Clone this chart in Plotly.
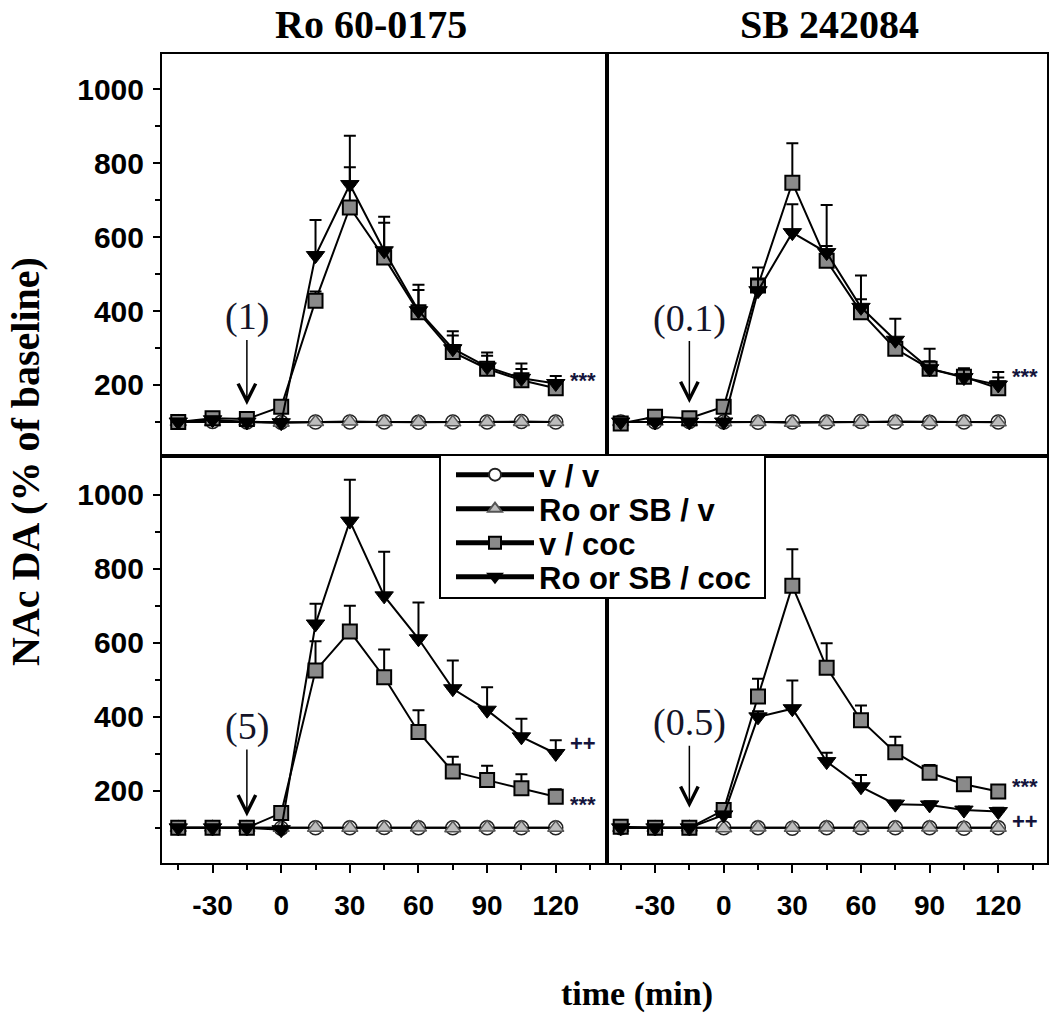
import plotly.graph_objects as go

# ---------------- data ----------------
time_min = [-45, -30, -15, 0, 15, 30, 45, 60, 75, 90, 105, 120]
group_names = ["v / v", "Ro or SB / v", "v / coc", "Ro or SB / coc"]
panel_titles = ["Ro 60-0175", "SB 242084"]
dose_labels = ["(1)", "(0.1)", "(5)", "(0.5)"]
x_tick_vals = [-30, 0, 30, 60, 90, 120]
x_tick_text = ["-30", "0", "30", "60", "90", "120"]
x_minor_vals = [-45, -15, 15, 45, 75, 105, 135]
y_tick_vals = [200, 400, 600, 800, 1000]
y_minor_vals = [100, 300, 500, 700, 900]

# top-left: Ro 60-0175 (1)
vv_tl = [100, 101, 100, 99, 100, 100, 100, 99, 100, 100, 101, 100]
rov_tl = [100, 100, 101, 98, 100, 101, 100, 100, 99, 100, 100, 100]
vcoc_tl = [100, 110, 108, 141, 428, 680, 545, 397, 289, 244, 213, 191]
vcoc_tl_err = [5, 8, 6, 15, 25, 109, 94, 60, 45, 35, 30, 20]
rococ_tl = [100, 106, 100, 98, 550, 742, 563, 401, 298, 249, 218, 204]
rococ_tl_err = [5, 6, 5, 10, 96, 132, 92, 70, 47, 39, 40, 20]

# top-right: SB 242084 (0.1)
vv_tr = [100, 100, 101, 100, 99, 100, 100, 101, 100, 99, 100, 100]
rov_tr = [100, 101, 100, 99, 100, 98, 100, 100, 101, 100, 100, 99]
vcoc_tr = [96, 114, 110, 141, 469, 747, 536, 397, 298, 244, 222, 191]
vcoc_tr_err = [5, 8, 6, 15, 49, 107, 40, 35, 25, 20, 20, 44]
rococ_tr = [100, 100, 100, 100, 455, 612, 558, 410, 321, 244, 220, 200]
rococ_tr_err = [5, 5, 5, 8, 30, 77, 129, 86, 58, 54, 25, 20]

# bottom-left: Ro 60-0175 (5)
vv_bl = [100, 100, 100, 99, 100, 100, 101, 100, 100, 100, 100, 100]
rov_bl = [100, 101, 100, 100, 100, 100, 100, 101, 99, 101, 100, 100]
vcoc_bl = [100, 100, 100, 140, 525, 631, 507, 359, 252, 229, 207, 184]
vcoc_bl_err = [5, 5, 5, 15, 79, 69, 75, 59, 40, 39, 38, 20]
rococ_bl = [100, 100, 100, 95, 651, 929, 727, 611, 476, 418, 346, 301]
rococ_bl_err = [5, 5, 5, 8, 55, 112, 119, 98, 76, 62, 49, 36]

# bottom-right: SB 242084 (0.5)
vv_br = [100, 100, 100, 100, 100, 99, 100, 100, 100, 100, 99, 100]
rov_br = [100, 100, 101, 99, 101, 100, 101, 100, 100, 101, 100, 100]
vcoc_br = [103, 100, 100, 148, 455, 754, 533, 391, 304, 249, 218, 198]
vcoc_br_err = [5, 5, 5, 10, 48, 99, 66, 40, 42, 21, 15, 15]
rococ_br = [100, 100, 100, 135, 400, 422, 279, 211, 164, 162, 148, 144]
rococ_br_err = [5, 5, 5, 8, 15, 76, 24, 32, 10, 10, 10, 10]

# significance marks: (panel, series, text, yshift)
sig_marks = [
    (0, "vcoc", "***", 8),
    (1, "vcoc", "***", 12),
    (2, "rococ", "++", 10),
    (2, "vcoc", "***", -8),
    (3, "vcoc", "***", 5),
    (3, "rococ", "++", -10),
]

panels = [
    dict(vv=vv_tl, rov=rov_tl, vcoc=vcoc_tl, vcoc_err=vcoc_tl_err, rococ=rococ_tl, rococ_err=rococ_tl_err),
    dict(vv=vv_tr, rov=rov_tr, vcoc=vcoc_tr, vcoc_err=vcoc_tr_err, rococ=rococ_tr, rococ_err=rococ_tr_err),
    dict(vv=vv_bl, rov=rov_bl, vcoc=vcoc_bl, vcoc_err=vcoc_bl_err, rococ=rococ_bl, rococ_err=rococ_bl_err),
    dict(vv=vv_br, rov=rov_br, vcoc=vcoc_br, vcoc_err=vcoc_br_err, rococ=rococ_br, rococ_err=rococ_br_err),
]

# ---------------- layout helpers ----------------
W, H = 1050, 1015


def px(x):
    return x / W


def py(y):
    return 1 - y / H


SANS = "Liberation Sans, Arial, sans-serif"
SERIF = "Liberation Serif, Times New Roman, serif"

x_dom = [[px(162), px(607)], [px(607), px(1047)]]
y_dom = [[py(456), py(54)], [py(863), py(456)]]
x_rng = [[-52.1, 142.4], [-51.0, 141.3]]
y_rng = [[8, 1095], [5, 1105]]

styles = {
    "vv": dict(symbol="circle", size=14, color="white", line=dict(color="#222", width=1.5)),
    "rov": dict(symbol="triangle-up", size=14, color="#bdbdbd", line=dict(color="#555", width=1.5)),
    "vcoc": dict(symbol="square", size=14, color="#8a8a8a", line=dict(color="black", width=2)),
    "rococ": dict(symbol="triangle-down", size=16, color="black", line=dict(color="black", width=1)),
}
keys = ["vv", "rov", "vcoc", "rococ"]
legend_ids = ["legend", "legend2", "legend3", "legend4"]
legend_rows = [475, 509, 543, 577]

fig = go.Figure()

for p, pdata in enumerate(panels):
    ax_id = "" if p == 0 else str(p + 1)
    for i, (k, name) in enumerate(zip(keys, group_names)):
        err = pdata.get(k + "_err")
        tr = go.Scatter(
            x=time_min, y=pdata[k], mode="lines+markers", name=name,
            line=dict(color="black", width=2), marker=styles[k],
            showlegend=(p == 0), legend=legend_ids[i],
            xaxis="x" + ax_id, yaxis="y" + ax_id, hoverinfo="skip",
        )
        if err is not None:
            tr.error_y = dict(type="data", array=err, arrayminus=[0] * len(err), symmetric=False,
                              color="black", thickness=2, width=6)
        fig.add_trace(tr)

for p in range(4):
    row, col = divmod(p, 2)
    suffix = "" if p == 0 else str(p + 1)
    xa = dict(domain=x_dom[col], range=x_rng[col], anchor="y" + suffix,
              showline=True, mirror=True, linecolor="black", linewidth=2,
              showgrid=False, zeroline=False, fixedrange=True)
    ya = dict(domain=y_dom[row], range=y_rng[row], anchor="x" + suffix,
              showline=True, mirror=True, linecolor="black", linewidth=2,
              showgrid=False, zeroline=False, fixedrange=True)
    if row == 1:
        xa.update(tickmode="array", tickvals=x_tick_vals, ticktext=x_tick_text,
                  ticks="outside", ticklen=8, tickwidth=2,
                  tickcolor="black", ticklabelstandoff=8,
                  tickfont=dict(family=SANS, size=28, color="black", weight="bold"),
                  minor=dict(tickmode="array", tickvals=x_minor_vals, ticks="outside", ticklen=5,
                             tickwidth=2, tickcolor="black"))
    else:
        xa.update(showticklabels=False, ticks="")
    if col == 0:
        ya.update(tickmode="array", tickvals=y_tick_vals, ticks="outside", ticklen=7, tickwidth=2,
                  tickcolor="black", ticklabelstandoff=3,
                  tickfont=dict(family=SANS, size=30, color="black", weight="bold"),
                  minor=dict(tickmode="array", tickvals=y_minor_vals, ticks="outside", ticklen=5,
                             tickwidth=2, tickcolor="black"))
    else:
        ya.update(showticklabels=False, ticks="")
    fig.layout["xaxis" + suffix] = xa
    fig.layout["yaxis" + suffix] = ya

annotations = []
# column titles
for col, t in enumerate(panel_titles):
    annotations.append(dict(text="<b>%s</b>" % t, xref="paper", yref="paper",
                            x=px([371, 829][col]), y=py(24), showarrow=False,
                            xanchor="center", yanchor="middle",
                            font=dict(family=SERIF, size=40, color="black")))
# axis titles
annotations.append(dict(text="<b>NAc DA (% of baseline)</b>", xref="paper", yref="paper",
                        x=px(25), y=py(462), textangle=-90, showarrow=False,
                        xanchor="center", yanchor="middle",
                        font=dict(family=SERIF, size=40, color="black")))
annotations.append(dict(text="<b>time (min)</b>", xref="paper", yref="paper",
                        x=px(637), y=py(994), showarrow=False,
                        xanchor="center", yanchor="middle",
                        font=dict(family=SERIF, size=34, color="black")))
# dose arrows (point at injection time -15 min)
arrow_tips = [146, 151, 131, 154]
arrow_ay = [-88, -85, -90, -85]
for p in range(4):
    suffix = "" if p == 0 else str(p + 1)
    annotations.append(dict(text=dose_labels[p], x=time_min[2], y=arrow_tips[p],
                            xref="x" + suffix, yref="y" + suffix,
                            showarrow=True, ax=0, ay=arrow_ay[p],
                            arrowhead=5, arrowsize=2.3, arrowwidth=1.5, arrowcolor="black",
                            font=dict(family=SERIF, size=38, color="#141428")))
# significance marks
for p, key, txt, ysh in sig_marks:
    suffix = "" if p == 0 else str(p + 1)
    annotations.append(dict(text="<b>%s</b>" % txt, x=time_min[-1], y=panels[p][key][-1],
                            xref="x" + suffix, yref="y" + suffix, showarrow=False,
                            xanchor="left", yanchor="middle", xshift=12, yshift=ysh,
                            font=dict(family=SANS, size=22, color="#14143c")))

# legend box
shapes = [dict(type="rect", xref="paper", yref="paper", layer="above",
               x0=px(440), x1=px(765), y0=py(598), y1=py(455),
               fillcolor="white", line=dict(color="black", width=2))]

layout_legends = {}
for i, lid in enumerate(legend_ids):
    layout_legends[lid] = dict(x=px(451), y=py(legend_rows[i]), xanchor="left", yanchor="middle",
                               bgcolor="rgba(0,0,0,0)", borderwidth=0,
                               font=dict(family=SANS, size=31, color="black", weight="bold"),
                               itemsizing="constant", itemwidth=78)

fig.update_layout(
    width=W, height=H,
    margin=dict(l=0, r=0, t=0, b=0),
    paper_bgcolor="white", plot_bgcolor="white",
    template="none",
    hovermode=False,
    annotations=annotations,
    shapes=shapes,
    **layout_legends,
)

fig.write_html("out.html", config={"displayModeBar": False},
               post_script="document.body.style.margin='0px';")
